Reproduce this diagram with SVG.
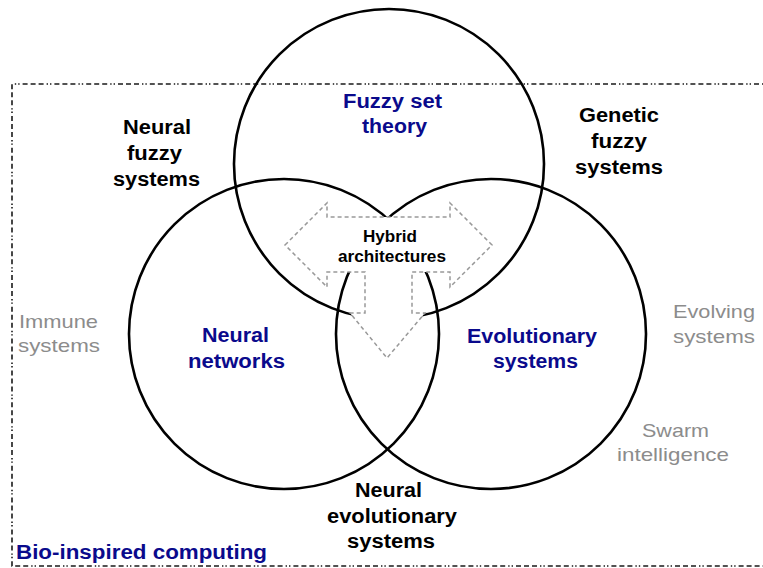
<svg xmlns="http://www.w3.org/2000/svg" width="763" height="568" viewBox="0 0 763 568">
  <style>
    .frame { fill: none; stroke: #1a1a1a; stroke-width: 1.6; stroke-dasharray: 5 3 5 3 5 3 1.4 2 1.4 3; }
    .set { fill: none; stroke: #000; stroke-width: 2.6; }
    .hybrid { fill: #fff; stroke: #999; stroke-width: 1.5; stroke-dasharray: 4 3; }
    text { font-family: "Liberation Sans", Arial, sans-serif; }
    .core { font-size: 20px; font-weight: bold; fill: #0a0a8c; }
    .mix { font-size: 20px; font-weight: bold; fill: #000; }
    .small { font-size: 16px; font-weight: bold; fill: #000; }
    .other { font-size: 19px; fill: #8c8c8c; }
  </style>
  <rect width="763" height="568" fill="#fff"/>

  <!-- outer bio-inspired computing frame -->
  <g id="bio-frame">
    <path class="frame" d="M 775 84 L 12 84 L 12 566 L 775 566"/>
    <text class="core" x="16" y="559" textLength="251" lengthAdjust="spacingAndGlyphs">Bio-inspired computing</text>
  </g>

  <!-- three overlapping sets -->
  <g id="fuzzy-set-theory">
    <circle class="set" cx="389" cy="164" r="155"/>
  </g>
  <g id="neural-networks">
    <circle class="set" cx="284" cy="334" r="155"/>
  </g>
  <g id="evolutionary-systems">
    <circle class="set" cx="491" cy="334" r="155"/>
  </g>

  <!-- hybrid architectures: three-way arrow in the middle -->
  <g id="hybrid-architectures">
    <polygon class="hybrid" points="285,245 327,203 327,217 450,217 450,203 492,245 450,287 450,272 412,272 412,313 425,313 387,358 350,313 365,313 365,272 327,272 327,287"/>
    <text class="small" x="363" y="242" textLength="54" lengthAdjust="spacingAndGlyphs">Hybrid</text>
    <text class="small" x="338" y="262" textLength="108" lengthAdjust="spacingAndGlyphs">architectures</text>
  </g>

  <!-- set labels -->
  <g id="label-fuzzy">
    <text class="core" x="343" y="108" textLength="99" lengthAdjust="spacingAndGlyphs">Fuzzy set</text>
    <text class="core" x="362" y="133" textLength="65" lengthAdjust="spacingAndGlyphs">theory</text>
  </g>
  <g id="label-neural">
    <text class="core" x="202" y="342" textLength="67" lengthAdjust="spacingAndGlyphs">Neural</text>
    <text class="core" x="188" y="368" textLength="97" lengthAdjust="spacingAndGlyphs">networks</text>
  </g>
  <g id="label-evolutionary">
    <text class="core" x="467" y="343" textLength="130" lengthAdjust="spacingAndGlyphs">Evolutionary</text>
    <text class="core" x="493" y="368" textLength="85" lengthAdjust="spacingAndGlyphs">systems</text>
  </g>

  <!-- pairwise hybrids -->
  <g id="neural-fuzzy-systems">
    <text class="mix" x="123" y="134" textLength="68" lengthAdjust="spacingAndGlyphs">Neural</text>
    <text class="mix" x="127" y="160" textLength="55" lengthAdjust="spacingAndGlyphs">fuzzy</text>
    <text class="mix" x="113" y="186" textLength="87" lengthAdjust="spacingAndGlyphs">systems</text>
  </g>
  <g id="genetic-fuzzy-systems">
    <text class="mix" x="579" y="122" textLength="80" lengthAdjust="spacingAndGlyphs">Genetic</text>
    <text class="mix" x="591" y="148" textLength="56" lengthAdjust="spacingAndGlyphs">fuzzy</text>
    <text class="mix" x="575" y="174" textLength="88" lengthAdjust="spacingAndGlyphs">systems</text>
  </g>
  <g id="neural-evolutionary-systems">
    <text class="mix" x="355" y="497" textLength="67" lengthAdjust="spacingAndGlyphs">Neural</text>
    <text class="mix" x="327" y="523" textLength="130" lengthAdjust="spacingAndGlyphs">evolutionary</text>
    <text class="mix" x="347" y="548" textLength="88" lengthAdjust="spacingAndGlyphs">systems</text>
  </g>

  <!-- other bio-inspired fields -->
  <g id="immune-systems">
    <text class="other" x="19" y="328" textLength="79" lengthAdjust="spacingAndGlyphs">Immune</text>
    <text class="other" x="18" y="352" textLength="82" lengthAdjust="spacingAndGlyphs">systems</text>
  </g>
  <g id="evolving-systems">
    <text class="other" x="673" y="318" textLength="82" lengthAdjust="spacingAndGlyphs">Evolving</text>
    <text class="other" x="673" y="343" textLength="82" lengthAdjust="spacingAndGlyphs">systems</text>
  </g>
  <g id="swarm-intelligence">
    <text class="other" x="642" y="437" textLength="67" lengthAdjust="spacingAndGlyphs">Swarm</text>
    <text class="other" x="617" y="461" textLength="112" lengthAdjust="spacingAndGlyphs">intelligence</text>
  </g>
</svg>
